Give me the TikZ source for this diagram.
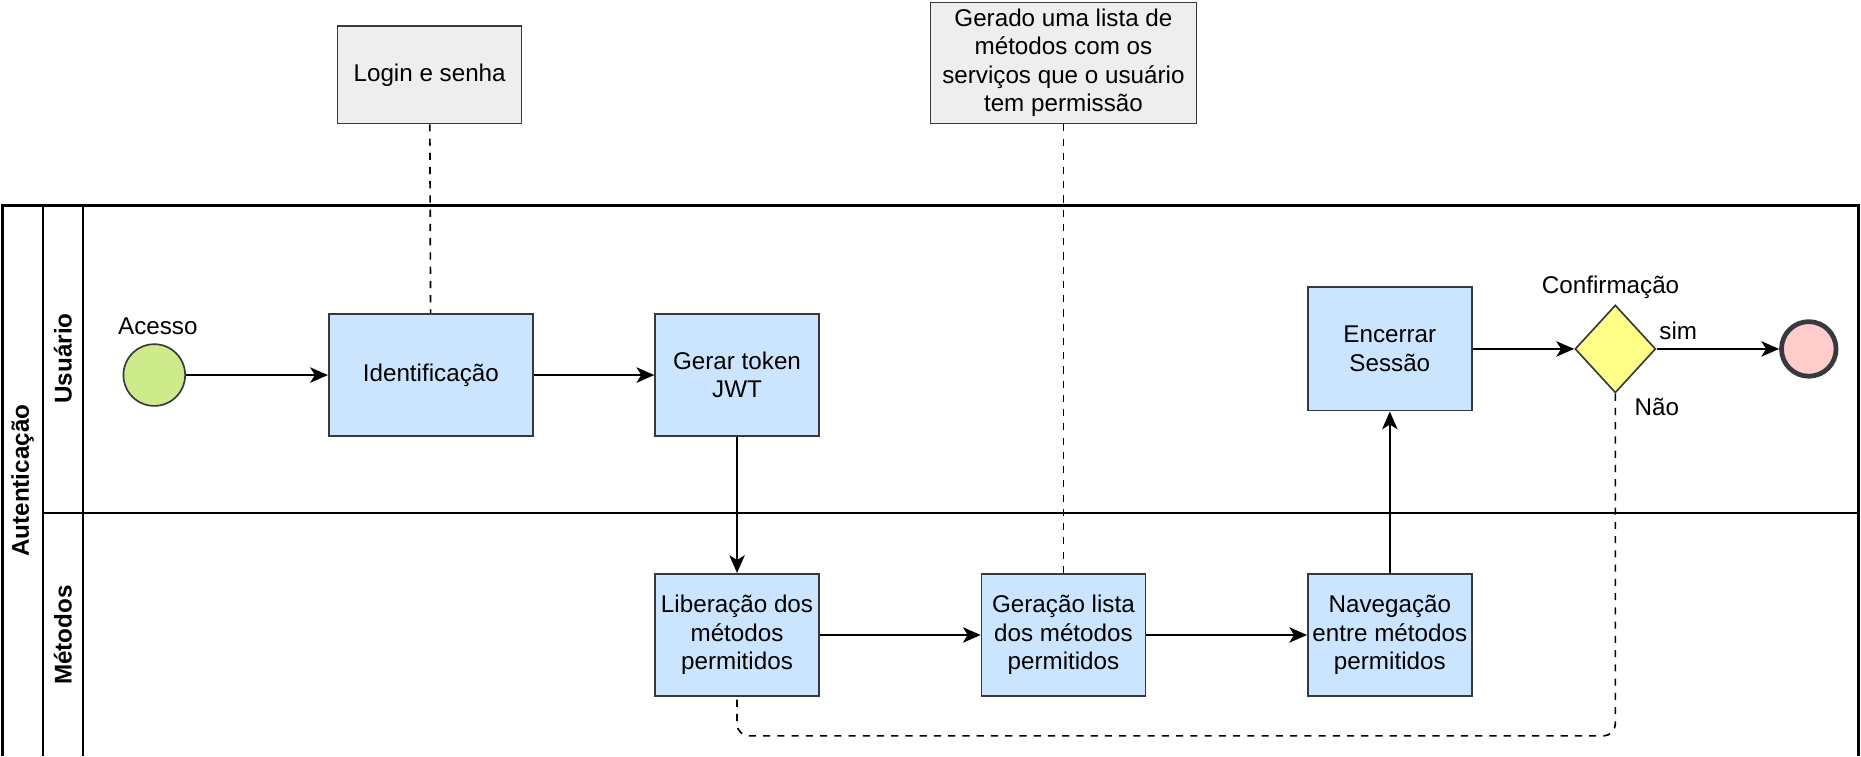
\documentclass[tikz,border=0pt]{standalone}
\usepackage{fontspec}
\setmainfont{Liberation Sans}
\usetikzlibrary{shapes.geometric, arrows.meta}

\definecolor{taskfill}{HTML}{CCE5FF}
\definecolor{notefill}{HTML}{EEEEEE}
\definecolor{startfill}{HTML}{CDEB8B}
\definecolor{endfill}{HTML}{FFCCCC}
\definecolor{gatefill}{HTML}{FFFF88}
\definecolor{edgegray}{HTML}{36393D}

\begin{document}
\begin{tikzpicture}[x=0.5pt, y=-0.5pt, >={Stealth[length=7.5pt, width=6.5pt, inset=2pt]},
    font=\fontsize{10.2}{12}\selectfont,
    task/.style={draw=edgegray, fill=taskfill, line width=0.7pt, align=center,
                 minimum width=69pt, minimum height=51.5pt, inner sep=1pt},
    note/.style={draw=edgegray, fill=notefill, line width=0.7pt, align=center,
                 minimum height=41pt, inner sep=1pt},
    startev/.style={circle, draw=edgegray, fill=startfill, line width=0.7pt, minimum size=26pt, inner sep=0pt},
    endev/.style={circle, draw=edgegray, fill=endfill, line width=2pt, minimum size=23pt, inner sep=0pt},
    gateway/.style={diamond, draw=edgegray, fill=gatefill, line width=0.7pt, aspect=1,
                    minimum width=34pt, minimum height=37pt, inner sep=0pt},
    lane/.style={font=\fontsize{10.2}{12}\selectfont\bfseries, rotate=90},
    flow/.style={->, line width=0.75pt},
    assoc/.style={dashed, line width=0.7pt}]

    \useasboundingbox (0 , 0) rectangle (1568 , 637);

    \draw[line width=1pt] (2 , 637) -- (2 , 173) -- (1566 , 173) -- (1566 , 637);
    \draw[line width=1pt] (36 , 173) -- (36 , 637);
    \draw[line width=1pt] (70 , 173) -- (70 , 637);
    \draw[line width=1pt] (36 , 432) -- (1566 , 432);

    \node [lane] (pool) at (19 , 405) {Autenticação};
    \node [lane] (usr) at (53 , 302) {Usuário};
    \node [lane] (met) at (53 , 535) {Métodos};

    \node [note, minimum width=77.5pt] (login) at (362 , 63) {Login e senha};
    \node [note, minimum width=112pt, minimum height=51pt] (lista) at (896 , 53)
        {Gerado uma lista de\\métodos com os\\serviços que o usuário\\tem permissão};

    \node [startev] (start) at (130 , 316) {};
    \node (acesso) at (133 , 275) {Acesso};
    \node [task, minimum width=86pt] (ident) at (363 , 316) {Identificação};
    \node [task] (token) at (621 , 316) {Gerar token\\JWT};
    \node [task, minimum height=52pt] (encerrar) at (1171 , 294) {Encerrar\\Sessão};
    \node [gateway] (gw) at (1361 , 294) {};
    \node (conf) at (1357 , 242) {Confirmação};
    \node (sim) at (1414 , 279) {sim};
    \node (nao) at (1396 , 343) {Não};
    \node [endev] (fim) at (1524 , 294) {};

    \node [task] (lib) at (621 , 535) {Liberação dos\\métodos\\permitidos};
    \node [task] (ger) at (896 , 535) {Geração lista\\dos métodos\\permitidos};
    \node [task] (nav) at (1171 , 535) {Navegação\\entre métodos\\permitidos};

    \coordinate (volta) at (621 , 620);

 \path[flow]
      (start) edge (ident)
      (ident) edge (token)
      (token) edge (lib)
      (lib) edge (ger)
      (ger) edge (nav)
      (nav) edge (encerrar)
      (encerrar) edge (gw)
      (gw) edge (fim);

    \draw[assoc] (login) -- (ident);
    \draw[assoc] (lista) -- (ger);
    \draw[assoc, rounded corners=5pt] (gw.south) |- (volta) -- (lib.south);
\end{tikzpicture}
\end{document}
